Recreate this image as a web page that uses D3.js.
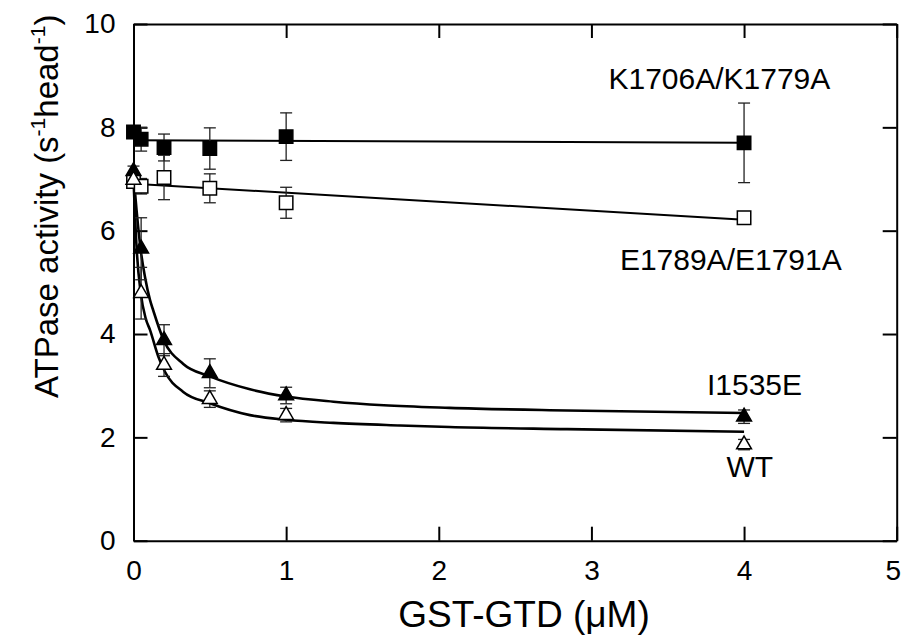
<!DOCTYPE html>
<html>
<head>
<meta charset="utf-8">
<script src="https://cdn.jsdelivr.net/npm/d3@7"></script>
<style>
  body { margin: 0; background: #fff; }
  svg text { font-family: "Liberation Sans", Arial, sans-serif; fill: #000; }
</style>
</head>
<body>
<div id="chart"></div>
<script>
// GST-GTD concentration (uM)
var conc = [0, 0.05, 0.2, 0.5, 1, 4];

// ATPase activity (s-1 head-1) and error bars
var kkActivity = [7.91, 7.77, 7.61, 7.59, 7.82, 7.70];
var kkError    = [0.08, 0.23, 0.26, 0.40, 0.46, 0.77];
var eeActivity = [6.95, 6.86, 7.03, 6.82, 6.54, 6.25];
var eeError    = [0.08, 0.15, 0.43, 0.28, 0.30, 0.12];
var ieActivity = [7.15, 5.65, 3.88, 3.24, 2.81, 2.40];
var ieError    = [0.10, 0.60, 0.30, 0.28, 0.16, 0.13];
var wtActivity = [6.98, 4.79, 3.40, 2.74, 2.43, 1.86];
var wtError    = [0.10, 0.50, 0.22, 0.16, 0.13, 0.10];

// fitted lines
var kkFitX = [0, 4];
var kkFitY = [7.75, 7.70];
var eeFitX = [0, 4];
var eeFitY = [6.91, 6.21];
var ieFitX = [0, 0.02, 0.047, 0.075, 0.108, 0.13, 0.195, 0.326, 0.5, 0.763, 1.0, 1.31, 1.64, 2.07, 2.84, 4.0];
var ieFitY = [7.08, 6.40, 5.63, 5.11, 4.66, 4.45, 3.90, 3.42, 3.18, 2.93, 2.79, 2.69, 2.62, 2.57, 2.52, 2.47];
var wtFitX = [0, 0.021, 0.047, 0.08, 0.108, 0.163, 0.206, 0.326, 0.5, 0.763, 1.0, 1.31, 1.746, 2.07, 2.84, 4.0];
var wtFitY = [7.0, 5.63, 4.80, 4.30, 4.08, 3.56, 3.27, 2.88, 2.66, 2.43, 2.34, 2.28, 2.23, 2.20, 2.16, 2.11];

var seriesNames = ["K1706A/K1779A", "E1789A/E1791A", "I1535E", "WT"];
var xTicks = [0, 1, 2, 3, 4, 5];
var yTicks = [0, 2, 4, 6, 8, 10];

(function() {
  var W = 905, H = 637;
  var svg = d3.select('#chart').append('svg').attr('width', W).attr('height', H);

  var x = d3.scaleLinear().domain([0, 5]).range([133.5, 896.7]);
  var y = d3.scaleLinear().domain([0, 10]).range([540.7, 24]);

  function zip(a, b) {
    return a.map(function(v, i) { return [v, b[i]]; });
  }

  var series = [
    { name: seriesNames[0], y: kkActivity, err: kkError, fit: zip(kkFitX, kkFitY), shape: 'square', filled: true, lw: 2 },
    { name: seriesNames[1], y: eeActivity, err: eeError, fit: zip(eeFitX, eeFitY), shape: 'square', filled: false, lw: 2 },
    { name: seriesNames[2], y: ieActivity, err: ieError, fit: zip(ieFitX, ieFitY), shape: 'triangle', filled: true, lw: 2.6 },
    { name: seriesNames[3], y: wtActivity, err: wtError, fit: zip(wtFitX, wtFitY), shape: 'triangle', filled: false, lw: 2.6 }
  ];

  // axes, ticks pointing inward on all four sides
  var tick = 14;
  var fmt = d3.format('d');
  var gx = svg.append('g').attr('transform', 'translate(0,' + y(0) + ')')
    .call(d3.axisBottom(x).tickValues(xTicks).tickFormat(fmt).tickSize(-tick).tickSizeOuter(0).tickPadding(19));
  var gy = svg.append('g').attr('transform', 'translate(' + x(0) + ',0)')
    .call(d3.axisLeft(y).tickValues(yTicks).tickFormat(fmt).tickSize(-tick).tickSizeOuter(0).tickPadding(18));
  var gt = svg.append('g').attr('transform', 'translate(0,' + y(10) + ')')
    .call(d3.axisTop(x).tickValues(xTicks).tickSize(-tick).tickSizeOuter(0).tickFormat(''));
  var gr = svg.append('g').attr('transform', 'translate(' + x(5) + ',0)')
    .call(d3.axisRight(y).tickValues(yTicks).tickSize(-tick).tickSizeOuter(0).tickFormat(''));

  [gx, gy, gt, gr].forEach(function(g) {
    g.select('.domain').attr('stroke', '#000').attr('stroke-width', 2);
    g.selectAll('.tick line').attr('stroke', '#000').attr('stroke-width', 2);
    g.selectAll('.tick text').attr('font-size', 28).attr('fill', '#000')
      .attr('font-family', '"Liberation Sans", Arial, sans-serif');
  });
  // last x label sits right at the window edge
  gx.selectAll('.tick text').filter(function(d) { return d === 5; }).attr('x', -4);

  // fitted lines
  var line = d3.line()
    .x(function(d) { return x(d[0]); })
    .y(function(d) { return y(d[1]); })
    .curve(d3.curveMonotoneX);

  svg.append('g').selectAll('path').data(series).enter().append('path')
    .attr('d', function(d) { return line(d.fit); })
    .attr('fill', 'none').attr('stroke', '#000')
    .attr('stroke-width', function(d) { return d.lw; });

  // error bars
  var cap = 6;
  series.forEach(function(s) {
    var g = svg.append('g').attr('stroke', '#222').attr('stroke-width', 1.3);
    var pts = conc.map(function(c, i) { return { x: c, y: s.y[i], e: s.err[i] }; });
    g.selectAll('line.v').data(pts).enter().append('line').attr('class', 'v')
      .attr('x1', function(d) { return x(d.x); }).attr('x2', function(d) { return x(d.x); })
      .attr('y1', function(d) { return y(d.y + d.e); }).attr('y2', function(d) { return y(d.y - d.e); });
    g.selectAll('line.t').data(pts).enter().append('line').attr('class', 't')
      .attr('x1', function(d) { return x(d.x) - cap; }).attr('x2', function(d) { return x(d.x) + cap; })
      .attr('y1', function(d) { return y(d.y + d.e); }).attr('y2', function(d) { return y(d.y + d.e); });
    g.selectAll('line.b').data(pts).enter().append('line').attr('class', 'b')
      .attr('x1', function(d) { return x(d.x) - cap; }).attr('x2', function(d) { return x(d.x) + cap; })
      .attr('y1', function(d) { return y(d.y - d.e); }).attr('y2', function(d) { return y(d.y - d.e); });
  });

  // markers
  var square = d3.symbol().type(d3.symbolSquare).size(180);
  var triangle = d3.symbol().type(d3.symbolTriangle).size(95);
  series.forEach(function(s) {
    svg.append('g').selectAll('path').data(s.y).enter().append('path')
      .attr('transform', function(d, i) { return 'translate(' + x(conc[i]) + ',' + y(d) + ')'; })
      .attr('d', s.shape === 'square' ? square() : triangle())
      .attr('fill', s.filled ? '#000' : '#fff')
      .attr('stroke', '#000').attr('stroke-width', 1.5);
  });

  // series labels
  var labels = [
    { text: series[0].name, x: 4.565, y: 8.74 },
    { text: series[1].name, x: 4.64, y: 5.24 },
    { text: series[2].name, x: 4.38, y: 2.82 },
    { text: series[3].name, x: 4.19, y: 1.23 }
  ];
  svg.append('g').selectAll('text').data(labels).enter().append('text')
    .attr('x', function(d) { return x(d.x); })
    .attr('y', function(d) { return y(d.y); })
    .attr('text-anchor', 'end')
    .attr('font-size', 30)
    .text(function(d) { return d.text; });

  // axis titles
  svg.append('text')
    .attr('x', 524).attr('y', 627)
    .attr('text-anchor', 'middle').attr('font-size', 37)
    .text('GST-GTD (\u03bcM)');

  var yt = svg.append('text')
    .attr('transform', 'translate(58,398) rotate(-90)')
    .attr('font-size', 33);
  yt.append('tspan').text('ATPase activity (s');
  yt.append('tspan').attr('font-size', 21).attr('dy', -13).text('-1');
  yt.append('tspan').attr('dy', 13).text('head');
  yt.append('tspan').attr('font-size', 21).attr('dy', -13).text('-1');
  yt.append('tspan').attr('dy', 13).text(')');
}).call(this);
</script>
</body>
</html>
